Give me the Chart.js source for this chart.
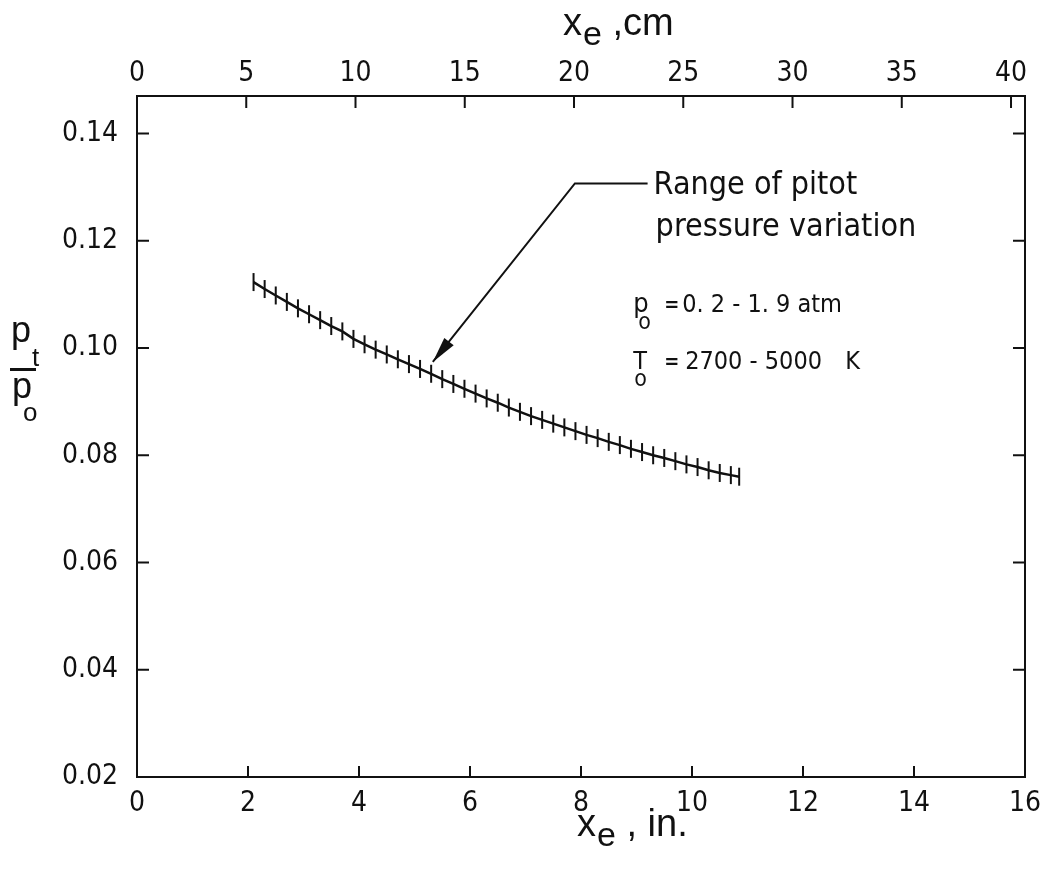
<!DOCTYPE html>
<html>
<head>
<meta charset="utf-8">
<script src="https://cdn.jsdelivr.net/npm/chart.js@4.4.1/dist/chart.umd.min.js"></script>
<style>
  html, body { margin: 0; padding: 0; background: #fff; }
  canvas { display: block; }
</style>
</head>
<body>
<canvas id="myChart" width="1040" height="871"></canvas>
<script>
// x_e in inches, and p_t/p_o
const xIn = [2.1, 2.3, 2.5, 2.7, 2.9, 3.1, 3.3, 3.5, 3.7, 3.9, 4.1, 4.3, 4.5, 4.7, 4.9,
    5.1, 5.3, 5.5, 5.7, 5.9, 6.1, 6.3, 6.5, 6.7, 6.9, 7.1, 7.3, 7.5, 7.7, 7.9,
    8.1, 8.3, 8.5, 8.7, 8.9, 9.1, 9.3, 9.5, 9.7, 9.9, 10.1, 10.3, 10.5, 10.7, 10.85];
const ratio = [0.1123, 0.1110, 0.1098, 0.1086, 0.1074, 0.1063, 0.1052, 0.1041, 0.1031, 0.1017,
    0.1007, 0.0997, 0.0988, 0.0979, 0.0970, 0.0961, 0.0952, 0.0942, 0.0933, 0.0924,
    0.0915, 0.0906, 0.0898, 0.0889, 0.0881, 0.0873, 0.0866, 0.0859, 0.0852, 0.0845,
    0.0838, 0.0832, 0.0825, 0.0819, 0.0812, 0.0806, 0.0800, 0.0795, 0.0789, 0.0783,
    0.0778, 0.0772, 0.0767, 0.0763, 0.0760];

const inchTicks = [0, 2, 4, 6, 8, 10, 12, 14, 16];
const cmTicks = [0, 5, 10, 15, 20, 25, 30, 35, 40];
const yTicks = [0.02, 0.04, 0.06, 0.08, 0.10, 0.12, 0.14];

const tickFont = { family: "'DejaVu Sans Condensed', 'Liberation Sans Narrow', sans-serif", size: 28 };
const noteFont = "'DejaVu Sans Condensed', 'Liberation Sans Narrow', sans-serif";
const titleFont = "'Liberation Sans', Arial, sans-serif";

// text with a subscript part
function subText(ctx, x, y, main, sub, rest, size, subSize, subDrop) {
    ctx.font = size + 'px ' + titleFont;
    ctx.fillText(main, x, y);
    let w = ctx.measureText(main).width;
    ctx.font = subSize + 'px ' + titleFont;
    ctx.fillText(sub, x + w + 1, y + subDrop);
    w += ctx.measureText(sub).width + 1;
    if (rest) {
        ctx.font = size + 'px ' + titleFont;
        ctx.fillText(rest, x + w, y);
    }
}

const decorations = {
    id: 'decorations',
    afterDraw(chart) {
        const { ctx, chartArea: a, scales } = chart;
        const xs = scales.x, x2 = scales.x2, ys = scales.y;
        ctx.save();
        ctx.strokeStyle = '#111';
        ctx.fillStyle = '#111';
        ctx.lineWidth = 2;

        // inward tick marks
        ctx.beginPath();
        inchTicks.forEach(v => {
            const p = xs.getPixelForValue(v);
            ctx.moveTo(p, a.bottom); ctx.lineTo(p, a.bottom - 11);
        });
        cmTicks.forEach(v => {
            const p = x2.getPixelForValue(v);
            ctx.moveTo(p, a.top); ctx.lineTo(p, a.top + 12);
        });
        yTicks.forEach(v => {
            const p = ys.getPixelForValue(v);
            ctx.moveTo(a.left, p); ctx.lineTo(a.left + 12, p);
            ctx.moveTo(a.right, p); ctx.lineTo(a.right - 12, p);
        });
        ctx.stroke();

        // callout arrow
        const tipX = xs.getPixelForValue(5.33), tipY = ys.getPixelForValue(0.0974);
        const elX = xs.getPixelForValue(7.89), elY = ys.getPixelForValue(0.1307);
        const endX = xs.getPixelForValue(9.2);
        ctx.lineWidth = 2;
        ctx.beginPath();
        ctx.moveTo(endX, elY); ctx.lineTo(elX, elY); ctx.lineTo(tipX, tipY);
        ctx.stroke();
        const ang = Math.atan2(tipY - elY, tipX - elX);
        ctx.beginPath();
        ctx.moveTo(tipX, tipY);
        ctx.lineTo(tipX - 26 * Math.cos(ang) + 6 * Math.sin(ang), tipY - 26 * Math.sin(ang) - 6 * Math.cos(ang));
        ctx.lineTo(tipX - 26 * Math.cos(ang) - 6 * Math.sin(ang), tipY - 26 * Math.sin(ang) + 6 * Math.cos(ang));
        ctx.closePath();
        ctx.fill();

        // notes
        ctx.textAlign = 'left';
        ctx.textBaseline = 'alphabetic';
        ctx.font = '32px ' + noteFont;
        ctx.fillText('Range of pitot', endX + 6, elY + 11);
        ctx.fillText('pressure variation', endX + 8, elY + 53);

        const nx = xs.getPixelForValue(8.94);
        ctx.font = '27px ' + noteFont;
        ctx.fillText('p', nx, ys.getPixelForValue(0.1067));
        ctx.font = '23px ' + noteFont;
        ctx.fillText('o', nx + 5, ys.getPixelForValue(0.1036));
        ctx.font = 'bold 20px ' + noteFont;
        ctx.fillText('=', nx + 31, ys.getPixelForValue(0.1069));
        ctx.font = '25px ' + noteFont;
        ctx.fillText('0. 2 - 1. 9 atm', nx + 49, ys.getPixelForValue(0.1067));

        ctx.font = '25px ' + noteFont;
        ctx.fillText('T', nx, ys.getPixelForValue(0.0961));
        ctx.font = '23px ' + noteFont;
        ctx.fillText('o', nx + 1, ys.getPixelForValue(0.0929));
        ctx.font = 'bold 20px ' + noteFont;
        ctx.fillText('=', nx + 31, ys.getPixelForValue(0.0963));
        ctx.font = '25px ' + noteFont;
        ctx.fillText('2700 - 5000', nx + 52, ys.getPixelForValue(0.0961));
        ctx.fillText('K', nx + 212, ys.getPixelForValue(0.0961));

        // axis titles
        subText(ctx, 563, 35, 'x', 'e', ' ,cm', 38, 34, 10);
        subText(ctx, 577, 836, 'x', 'e', ' , in.', 38, 34, 10);

        // y title: p_t over p_o
        ctx.font = '36px ' + titleFont;
        ctx.fillText('p', 11, 342);
        ctx.font = '26px ' + titleFont;
        ctx.fillText('t', 32, 366);
        ctx.fillRect(10, 368, 26, 3);
        ctx.font = '36px ' + titleFont;
        ctx.fillText('p', 12, 398);
        ctx.font = '26px ' + titleFont;
        ctx.fillText('o', 23, 421);

        ctx.restore();
    }
};

const points = xIn.map((x, i) => ({ x: x, y: ratio[i] }));

const noSidePad = s => { s.paddingLeft = 0; s.paddingRight = 0; };

const config = {
    type: 'line',
    data: {
        datasets: [{
            data: points,
            borderColor: '#111',
            backgroundColor: '#111',
            borderWidth: 2.5,
            pointStyle: 'line',
            rotation: 90,
            pointRadius: 9,
            pointBorderWidth: 2,
            pointBorderColor: '#111',
            tension: 0,
            xAxisID: 'x',
            yAxisID: 'y',
        }]
    },
    options: {
        responsive: false,
        animation: false,
        devicePixelRatio: 1,
        layout: { padding: { left: 0, right: 15, top: 0, bottom: 0 } },
        plugins: { legend: { display: false }, tooltip: { enabled: false } },
        scales: {
            x: {
                type: 'linear', position: 'bottom', min: 0, max: 16,
                afterFit: s => { s.height = 94; noSidePad(s); },
                grid: { display: false, drawTicks: false },
                border: { display: true, color: '#111', width: 2 },
                ticks: { stepSize: 2, includeBounds: false, padding: 10, color: '#111', font: tickFont }
            },
            x2: {
                type: 'linear', position: 'top', min: 0, max: 16 * 2.54,
                afterFit: s => { s.height = 96; noSidePad(s); },
                grid: { display: false, drawTicks: false },
                border: { display: true, color: '#111', width: 2 },
                ticks: { stepSize: 5, includeBounds: false, padding: 5, color: '#111', font: tickFont }
            },
            y: {
                type: 'linear', position: 'left', min: 0.02, max: 0.147,
                afterFit: s => { s.width = 137; },
                grid: { display: false, drawTicks: false },
                border: { display: true, color: '#111', width: 2 },
                ticks: {
                    stepSize: 0.02, includeBounds: false, padding: 19, color: '#111', font: tickFont,
                    callback: v => v.toFixed(2)
                }
            },
            y2: {
                type: 'linear', position: 'right', min: 0.02, max: 0.147,
                afterFit: s => { s.width = 0; },
                grid: { display: false, drawTicks: false },
                border: { display: true, color: '#111', width: 2 },
                ticks: { display: false }
            }
        }
    },
    plugins: [decorations]
};

const myChart = new Chart(document.getElementById('myChart'), config);
</script>
</body>
</html>
